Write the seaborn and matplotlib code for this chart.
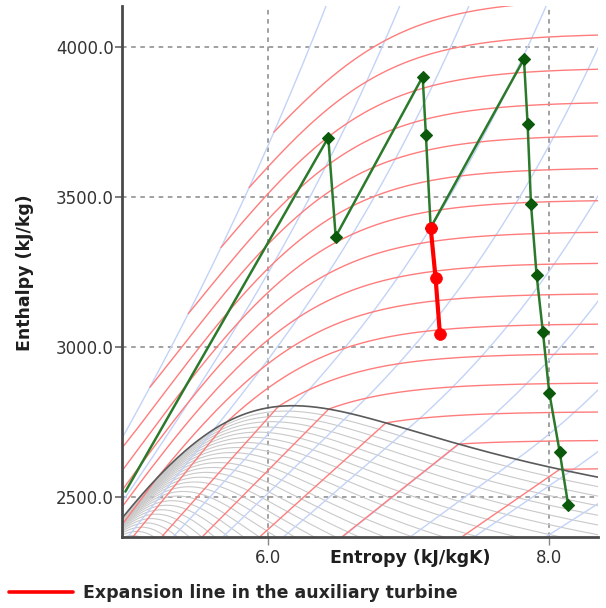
import numpy as np
import pandas as pd
import matplotlib
matplotlib.use("Agg")
import matplotlib.pyplot as plt
import seaborn as sns
from matplotlib.lines import Line2D
from matplotlib.ticker import FixedLocator, FormatStrFormatter

# ---------------------------------------------------------------
# Reheat cycle states on the h-s plane (s in kJ/kgK, h in kJ/kg)
# ---------------------------------------------------------------
cycle_s = [4.983, 6.427, 6.480, 7.099, 7.122, 7.156, 7.820, 7.846,
           7.870, 7.910, 7.955, 8.000, 8.074, 8.135]
cycle_h = [2517.0, 3697.0, 3367.0, 3900.0, 3706.0, 3397.0, 3959.0, 3742.0,
           3475.0, 3239.0, 3048.0, 2847.0, 2650.0, 2472.0]

aux_s = [7.156, 7.191, 7.222]
aux_h = [3397.0, 3228.0, 3041.0]
aux_label = "Expansion line in the auxiliary turbine"

# Property lines drawn behind the cycle
isotherm_temps_C = [50, 100, 150, 200, 250, 300, 350, 400,
                    450, 500, 550, 600, 650, 700, 750, 800]
isobar_pressures_MPa = [0.003, 0.01, 0.03, 0.1, 0.3, 1.0, 3.0, 10.0, 30.0, 100.0]
quality_levels = [0.70, 0.71, 0.72, 0.73, 0.74, 0.75, 0.76, 0.77, 0.78, 0.79,
                  0.80, 0.81, 0.82, 0.83, 0.84, 0.85, 0.86, 0.87, 0.88, 0.89,
                  0.90, 0.91, 0.92, 0.93, 0.94, 0.95, 0.96, 0.97, 0.98, 0.99]

x_tick_values = [6.0, 8.0]
y_tick_values = [2500.0, 3000.0, 3500.0, 4000.0]
s_limits = (4.959, 8.347)
h_limits = (2366.7, 4135.7)
x_label = "Entropy (kJ/kgK)"
y_label = "Enthalpy (kJ/kg)"

# ---------------------------------------------------------------
# IAPWS-IF97 steam properties (regions 1, 2, 3 and 4)
# ---------------------------------------------------------------
R = 0.461526
TC = 647.096

R1_I = [0, 0, 0, 0, 0, 0, 0, 0, 1, 1, 1, 1, 1, 1, 2, 2, 2, 2, 2, 3, 3, 3,
        4, 4, 4, 5, 8, 8, 21, 23, 29, 30, 31, 32]
R1_J = [-2, -1, 0, 1, 2, 3, 4, 5, -9, -7, -1, 0, 1, 3, -3, 0, 1, 3, 17, -4,
        0, 6, -5, -2, 10, -8, -11, -6, -29, -31, -38, -39, -40, -41]
R1_N = [0.14632971213167, -0.84548187169114, -3.756360367204, 3.3855169168385,
        -0.95791963387872, 0.15772038513228, -0.016616417199501, 8.1214629983568e-4,
        2.8319080123804e-4, -6.0706301565874e-4, -0.018990068218419, -0.032529748770505,
        -0.021841717175414, -5.283835796993e-5, -4.7184321073267e-4, -3.0001780793026e-4,
        4.7661393906987e-5, -4.4141845330846e-6, -7.2694996297594e-16, -3.1679644845054e-5,
        -2.8270797985312e-6, -8.5205128120103e-10, -2.2425281908e-6, -6.5171222895601e-7,
        -1.4341729937924e-13, -4.0516996860117e-7, -1.2734301741641e-9, -1.7424871230634e-10,
        -6.8762131295531e-19, 1.4478307828521e-20, 2.6335781662795e-23, -1.1947622640071e-23,
        1.8228094581404e-24, -9.3537087292458e-26]

R2_J0 = [0, 1, -5, -4, -3, -2, -1, 2, 3]
R2_N0 = [-9.6927686500217, 10.086655968018, -0.005608791128302, 0.071452738081455,
         -0.40710498223928, 1.4240819171444, -4.383951131945, -0.28408632460772,
         0.021268463753307]
R2_I = [1, 1, 1, 1, 1, 2, 2, 2, 2, 2, 3, 3, 3, 3, 3, 4, 4, 4, 5, 6, 6, 6,
        7, 7, 7, 8, 8, 9, 10, 10, 10, 16, 16, 18, 20, 20, 20, 21, 22, 23, 24, 24, 24]
R2_J = [0, 1, 2, 3, 6, 1, 2, 4, 7, 36, 0, 1, 3, 6, 35, 1, 2, 3, 7, 3, 16, 35,
        0, 11, 25, 8, 36, 13, 4, 10, 14, 29, 50, 57, 20, 35, 48, 21, 53, 39, 26, 40, 58]
R2_N = [-0.0017731742473213, -0.017834862292358, -0.045996013696365, -0.057581259083432,
        -0.05032527872793, -3.3032641670203e-5, -1.8948987516315e-4, -3.9392777243355e-3,
        -0.043797295650573, -2.6674547914087e-5, 2.0481737692309e-8, 4.3870667284435e-7,
        -3.227767723857e-5, -1.5033924542148e-3, -0.040668253562649, -7.8847309559367e-10,
        1.2790717852285e-8, 4.8225372718507e-7, 2.2922076337661e-6, -1.6714766451061e-11,
        -2.1171472321355e-3, -23.895741934104, -5.905956432427e-21, -1.2621808899101e-6,
        -0.038946842435739, 1.1256211360459e-11, -8.2311340897998, 1.9809712802088e-8,
        1.0406965210174e-19, -1.0234747095929e-13, -1.0018179379511e-9, -8.0882908646985e-11,
        0.10693031879409, -0.33662250574171, 8.9185845355421e-25, 3.0629316876232e-13,
        -4.2002467698208e-6, -5.9056029685639e-26, 3.7826947613457e-6, -1.2768608934681e-15,
        7.3087610595061e-29, 5.5414715350778e-17, -9.436970724121e-7]

R3_N1 = 1.0658070028513
R3_I = [0, 0, 0, 0, 0, 0, 0, 1, 1, 1, 1, 2, 2, 2, 2, 2, 2, 3, 3, 3, 3, 3,
        4, 4, 4, 4, 5, 5, 5, 6, 6, 6, 7, 8, 9, 9, 10, 10, 11]
R3_J = [0, 1, 2, 7, 10, 12, 23, 2, 6, 15, 17, 0, 2, 6, 7, 22, 26, 0, 2, 4, 16, 26,
        0, 2, 4, 26, 1, 3, 26, 0, 2, 26, 2, 26, 2, 26, 0, 1, 26]
R3_N = [-15.732845290239, 20.944396974307, -7.6867707878716, 2.6185947787954,
        -2.808078114862, 1.2053369696517, -8.4566812812502e-3, -1.2654315477714,
        -1.1524407806681, 0.88521043984318, -0.64207765181607, 0.38493460186671,
        -0.85214708824206, 4.8972281541877, -3.0502617256965, 0.039420536879154,
        0.12558408424308, -0.2799932969871, 1.389979956946, -2.018991502357,
        -8.2147637173963e-3, -0.47596035734923, 0.0439840744735, -0.44476435428739,
        0.90572070719733, 0.70522450087967, 0.10770512626332, -0.32913623258954,
        -0.50871062041158, -0.022175400873096, 0.094260751665092, 0.16436278447961,
        -0.013503372241348, -0.014834345352472, 5.7922953628084e-4, 3.2308904703711e-3,
        8.0964802996215e-5, -1.6557679795037e-4, -4.4923899061815e-5]

R4_N = [1167.0521452767, -724213.16703206, -17.073846940092, 12020.82470247,
        -3232555.0322333, 14.91510861353, -4823.2657361591, 405113.40542057,
        -0.23855557567849, 650.17534844798]


def region1(T, p):
    T = np.asarray(T, dtype=float)
    p = np.asarray(p, dtype=float)
    tau = 1386.0 / T
    a = 7.1 - p / 16.53
    b = tau - 1.222
    g = 0.0
    gt = 0.0
    for n, i, j in zip(R1_N, R1_I, R1_J):
        term = n * a ** i
        g = g + term * b ** j
        if j:
            gt = gt + term * j * b ** (j - 1)
    return R * T * tau * gt, R * (tau * gt - g)


def region2(T, p):
    T = np.asarray(T, dtype=float)
    p = np.asarray(p, dtype=float)
    tau = 540.0 / T
    g0 = np.log(p) + 0.0 * tau
    g0t = 0.0
    for n, j in zip(R2_N0, R2_J0):
        g0 = g0 + n * tau ** j
        if j:
            g0t = g0t + n * j * tau ** (j - 1)
    b = tau - 0.5
    gr = 0.0
    grt = 0.0
    for n, i, j in zip(R2_N, R2_I, R2_J):
        term = n * p ** i
        gr = gr + term * b ** j
        if j:
            grt = grt + term * j * b ** (j - 1)
    gt = g0t + grt
    return R * T * tau * gt, R * (tau * gt - g0 - gr)


def region3(rho, T):
    rho = np.asarray(rho, dtype=float)
    T = np.asarray(T, dtype=float)
    d = rho / 322.0
    tau = TC / T
    phi = R3_N1 * np.log(d)
    phid = R3_N1 / d
    phit = 0.0
    for n, i, j in zip(R3_N, R3_I, R3_J):
        phi = phi + n * d ** i * tau ** j
        if i:
            phid = phid + n * i * d ** (i - 1) * tau ** j
        if j:
            phit = phit + n * j * d ** i * tau ** (j - 1)
    p = rho * R * T * d * phid / 1000.0
    h = R * T * (tau * phit + d * phid)
    s = R * (tau * phit - phi)
    return p, h, s


def psat(T):
    n = R4_N
    th = T + n[8] / (T - n[9])
    A = th ** 2 + n[0] * th + n[1]
    B = n[2] * th ** 2 + n[3] * th + n[4]
    C = n[5] * th ** 2 + n[6] * th + n[7]
    return (2.0 * C / (-B + np.sqrt(B * B - 4.0 * A * C))) ** 4


def tsat(p):
    n = R4_N
    be = p ** 0.25
    E = be ** 2 + n[2] * be + n[5]
    F = n[0] * be ** 2 + n[3] * be + n[6]
    G = n[1] * be ** 2 + n[4] * be + n[7]
    D = 2.0 * G / (-F - np.sqrt(F * F - 4.0 * E * G))
    return (n[9] + D - np.sqrt((n[9] + D) ** 2 - 4.0 * (n[8] + n[9] * D))) / 2.0


def p_b23(T):
    return 348.05185628969 - 1.1671859879975 * T + 1.0192970039326e-3 * T ** 2


def t_b23(p):
    return 572.54459862746 + np.sqrt((p - 13.91883977887) / 1.0192970039326e-3)


RHO_SCAN = np.linspace(60.0, 1000.0, 2400)


def region3_root(T, p_target, branch):
    """Density at the last (liquid-like) or first (vapour-like) crossing of p_target."""
    T = np.atleast_1d(np.asarray(T, dtype=float))
    pt = np.broadcast_to(np.asarray(p_target, dtype=float), T.shape)
    P = region3(RHO_SCAN[None, :], T[:, None])[0]
    below = P < pt[:, None]
    M = RHO_SCAN.size
    if branch == "liquid":
        k = M - 1 - np.argmax(below[:, ::-1], axis=1)
        k0 = np.clip(k, 0, M - 2)
        k1 = k0 + 1
    else:
        k = np.argmax(~below, axis=1)
        k1 = np.clip(k, 1, M - 1)
        k0 = k1 - 1
    r = np.arange(T.size)
    p0, p1 = P[r, k0], P[r, k1]
    return RHO_SCAN[k0] + (pt - p0) * (RHO_SCAN[k1] - RHO_SCAN[k0]) / (p1 - p0)


# ---------------------------------------------------------------
# Saturation dome
# ---------------------------------------------------------------
T_low = np.linspace(273.16, 623.15, 300)
p_low = psat(T_low)
hf_low, sf_low = region1(T_low, p_low)
hg_low, sg_low = region2(T_low, p_low)

T_high = TC - np.geomspace(TC - 623.2, 0.02, 80)
p_high = psat(T_high)
rho_f = region3_root(T_high, p_high, "liquid")
rho_g = region3_root(T_high, p_high, "vapor")
_, hf_high, sf_high = region3(rho_f, T_high)
_, hg_high, sg_high = region3(rho_g, T_high)
_, h_crit, s_crit = region3(322.0, TC)

sat_sf = np.concatenate([sf_low, sf_high, [s_crit]])
sat_hf = np.concatenate([hf_low, hf_high, [h_crit]])
sat_sg = np.concatenate([sg_low, sg_high, [s_crit]])
sat_hg = np.concatenate([hg_low, hg_high, [h_crit]])

pieces = []


def add_line(family, name, s, h):
    pieces.append(pd.DataFrame({"s": np.asarray(s, dtype=float),
                                "h": np.asarray(h, dtype=float),
                                "family": family,
                                "line": f"{family}:{name}"}))


add_line("saturation", "dome",
         np.concatenate([sat_sf, sat_sg[::-1]]),
         np.concatenate([sat_hf, sat_hg[::-1]]))

for x in quality_levels:
    add_line("quality", x, sat_sf + x * (sat_sg - sat_sf), sat_hf + x * (sat_hg - sat_hf))

# Isotherms: superheated part, dense supercritical part and the wet straight line
RHO_FINE = np.linspace(60.0, 1000.0, 5000)
for tc in isotherm_temps_C:
    T = tc + 273.15
    if T <= 623.15 + 1e-9:
        ps = float(psat(T))
        hl, sl = region1(T, ps)
        p_grid = np.geomspace(ps, 1e-4, 400)
        hv, sv = region2(T, p_grid)
        s_line = np.concatenate([[float(sl)], sv])
        h_line = np.concatenate([[float(hl)], hv])
    else:
        pb = float(p_b23(T))
        p_grid = np.geomspace(1e-4, min(pb, 100.0), 400)
        h2, s2 = region2(T, p_grid)
        s_line, h_line = s2, h2
        if pb < 100.0:
            p3, h3, s3 = region3(RHO_FINE, T)
            start = int(np.argmax(p3 > pb))
            over = np.nonzero(p3[start:] > 100.0)[0]
            stop = start + (int(over[0]) if over.size else p3.size - start)
            s_line = np.concatenate([s2, s3[start:stop]])
            h_line = np.concatenate([h2, h3[start:stop]])
    add_line("isotherm", tc, s_line, h_line)

# Isobars
for p in isobar_pressures_MPa:
    if p < 22.064:
        Ts = float(tsat(p))
        hl, sl = region1(Ts, p)
        T_grid = np.linspace(Ts, 1400.0, 500)
        hv, sv = region2(T_grid, p)
        s_line = np.concatenate([[float(sl)], sv])
        h_line = np.concatenate([[float(hl)], hv])
    else:
        Tb = float(t_b23(p))
        T3 = np.linspace(623.16, Tb, 150)
        rho3 = region3_root(T3, p, "vapor")
        _, h3, s3 = region3(rho3, T3)
        T2 = np.linspace(Tb, 1400.0, 500)
        h2, s2 = region2(T2, p)
        s_line = np.concatenate([s3, s2])
        h_line = np.concatenate([h3, h2])
    add_line("isobar", p, s_line, h_line)

chart_lines = pd.concat(pieces, ignore_index=True)

# ---------------------------------------------------------------
# Figure
# ---------------------------------------------------------------
sns.set_theme(style="white")
plt.rcParams["font.family"] = ["DejaVu Sans"]

W, H = 606, 608
fig = plt.figure(figsize=(W / 100, H / 100), dpi=100)
ax_left, ax_right, ax_top, ax_bottom = 122, 598, 6, 536.7
ax = fig.add_axes([ax_left / W, 1 - ax_bottom / H,
                   (ax_right - ax_left) / W, (ax_bottom - ax_top) / H])

line_styles = {
    "quality": ("#c9c9c9", 0.8, 1.0),
    "isobar": ("#c3d3f7", 1.0, 1.2),
    "isotherm": ("#ff7c7c", 1.0, 1.4),
    "saturation": ("#5a5a5a", 1.2, 1.6),
}
for family, (color, lw, z) in line_styles.items():
    sns.lineplot(data=chart_lines[chart_lines["family"] == family],
                 x="s", y="h", units="line", estimator=None, sort=False,
                 color=color, linewidth=lw, legend=False, ax=ax, zorder=z)

sns.lineplot(x=cycle_s, y=cycle_h, estimator=None, sort=False,
             color="#2b7a2b", linewidth=1.8, marker="D", markersize=6.3,
             markerfacecolor="#0b5a0b", markeredgecolor="#0b5a0b",
             markeredgewidth=0.8, markevery=list(range(1, len(cycle_s))),
             ax=ax, zorder=5)
sns.lineplot(x=aux_s, y=aux_h, estimator=None, sort=False,
             color="#ff0000", linewidth=3.0, marker="o", markersize=8.5,
             markerfacecolor="#ff0000", markeredgecolor="#ff0000",
             markeredgewidth=0.5, ax=ax, zorder=6)

ax.set_xlim(*s_limits)
ax.set_ylim(*h_limits)
ax.xaxis.set_major_locator(FixedLocator(x_tick_values))
ax.yaxis.set_major_locator(FixedLocator(y_tick_values))
ax.xaxis.set_major_formatter(FormatStrFormatter("%.1f"))
ax.yaxis.set_major_formatter(FormatStrFormatter("%.1f"))

ax.grid(True, color="#888888", linestyle=(0, (3, 3)), linewidth=1.1)
ax.set_axisbelow(True)

for side in ("top", "right"):
    ax.spines[side].set_visible(False)
for side in ("left", "bottom"):
    ax.spines[side].set_color("#4a4a4a")
    ax.spines[side].set_linewidth(2.0)

ax.tick_params(axis="x", bottom=True, direction="out", length=6, width=1.0,
               color="#888888", pad=3, labelsize=12, labelcolor="#333333")
ax.tick_params(axis="y", left=True, direction="out", length=5, width=1.2,
               color="#666666", pad=1, labelsize=12, labelcolor="#333333")

ax.set_xlabel(x_label, fontsize=12.5, fontweight="bold", color="#1e1e1e")
ax.xaxis.set_label_coords(0.606, -0.040)
ax.xaxis.label.set_verticalalignment("center")
ax.set_ylabel(y_label, fontsize=12.5, fontweight="bold", color="#1e1e1e")
ax.yaxis.set_label_coords(-0.204, 0.498)
ax.yaxis.label.set_verticalalignment("center")

legend_handle = Line2D([], [], color="#ff0000", linewidth=2.6)
fig.legend([legend_handle], [aux_label], loc="center left",
           bbox_to_anchor=(9 / W, 1 - 593 / H), frameon=False,
           borderpad=0, borderaxespad=0, handlelength=3.66, handletextpad=0.62,
           prop={"weight": "bold", "size": 12.5})

fig.savefig("out.png", dpi=100)
